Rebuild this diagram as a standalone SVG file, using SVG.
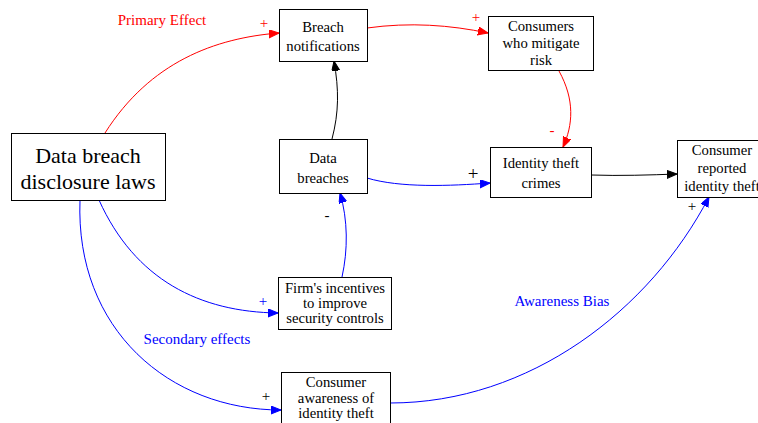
<svg xmlns="http://www.w3.org/2000/svg" width="758" height="423" viewBox="0 0 758 423" font-family="Liberation Serif, Times New Roman, serif">
<style>
.box{fill:#fff;stroke:#000;stroke-width:1}
text{font-size:14.7px;text-anchor:middle}
.t{fill:#000}
.big{font-size:22px}
.lab{font-size:15px}
.sym{font-size:19px}
.e{fill:none;stroke-width:1}
.red{stroke:#f00}.blue{stroke:#00f}.blk{stroke:#000}
.lr{fill:#f00}.lb{fill:#00f}
</style>
<defs>
<marker id="ar" markerUnits="userSpaceOnUse" markerWidth="12" markerHeight="9" refX="10" refY="4" orient="auto"><path d="M0,0 L10,4 L0,8 z" fill="#f00" stroke="#f00"/></marker>
<marker id="ab" markerUnits="userSpaceOnUse" markerWidth="12" markerHeight="9" refX="10" refY="4" orient="auto"><path d="M0,0 L10,4 L0,8 z" fill="#00f" stroke="#00f"/></marker>
<marker id="ak" markerUnits="userSpaceOnUse" markerWidth="12" markerHeight="9" refX="10" refY="4" orient="auto"><path d="M0,0 L10,4 L0,8 z" fill="#000" stroke="#000"/></marker>
</defs>
<rect width="758" height="423" fill="#fff"/>
<g id="edges">
<path class="e red" d="M105,133 C150,62 215,38 279,33" marker-end="url(#ar)"/>
<path class="e red" d="M367,28 C410,22 450,25 488,33" marker-end="url(#ar)"/>
<path class="e red" d="M559,71 C575,100 573,125 563,147" marker-end="url(#ar)"/>
<path class="e blk" d="M332,139 C339,112 339,90 334,61" marker-end="url(#ak)"/>
<path class="e blue" d="M367,178 C400,188 450,186 490,183" marker-end="url(#ab)"/>
<path class="e blk" d="M591,175 C620,176 650,175 677,174" marker-end="url(#ak)"/>
<path class="e blue" d="M342,277 C348,250 348,220 340,193" marker-end="url(#ab)"/>
<path class="e blue" d="M99,200 C135,280 200,312 278,313" marker-end="url(#ab)"/>
<path class="e blue" d="M80,200 C75,330 170,410 281,410" marker-end="url(#ab)"/>
<path class="e blue" d="M390,403 C530,403 650,310 709,197" marker-end="url(#ab)"/>
<text class="lr lab" x="162" y="25">Primary Effect</text>
<text class="lr lab" x="264" y="28">+</text>
<text class="lr lab" x="476" y="22">+</text>
<text class="lr lab" x="552" y="135">-</text>
<text class="t sym" x="473" y="180">+</text>
<text class="t lab" x="327" y="220">-</text>
<text class="lb lab" x="263" y="306">+</text>
<text class="t lab" x="266" y="401">+</text>
<text class="t lab" x="692" y="211">+</text>
<text class="lb lab" x="197" y="344">Secondary effects</text>
<text class="lb lab" x="562" y="306">Awareness Bias</text>
</g>
<g id="dbdl"><rect class="box" x="11.5" y="133.5" width="154" height="67"/><text class="t big" x="88" y="163">Data breach</text><text class="t big" x="88" y="189">disclosure laws</text></g>
<g id="breach-notifications"><rect class="box" x="279.5" y="9.5" width="88" height="52"/><text class="t" x="323" y="32">Breach</text><text class="t" x="323" y="51">notifications</text></g>
<g id="consumers-mitigate"><rect class="box" x="488.5" y="16.5" width="105" height="54"/><text class="t" x="541" y="31">Consumers</text><text class="t" x="541" y="48">who mitigate</text><text class="t" x="541" y="65">risk</text></g>
<g id="data-breaches"><rect class="box" x="279.5" y="139.5" width="88" height="54"/><text class="t" x="323" y="163">Data</text><text class="t" x="323" y="183">breaches</text></g>
<g id="identity-theft"><rect class="box" x="490.5" y="147.5" width="101" height="50"/><text class="t" x="541" y="168">Identity theft</text><text class="t" x="541" y="188">crimes</text></g>
<g id="consumer-reported"><rect class="box" x="677.5" y="140.5" width="92" height="57"/><text class="t" x="722" y="155">Consumer</text><text class="t" x="722" y="173">reported</text><text class="t" x="722" y="191">identity theft</text></g>
<g id="firms-incentives"><rect class="box" x="278.5" y="277.5" width="113" height="52"/><text class="t" x="335" y="293">Firm's incentives</text><text class="t" x="335" y="308">to improve</text><text class="t" x="335" y="323">security controls</text></g>
<g id="consumer-awareness"><rect class="box" x="281.5" y="372.5" width="109" height="60"/><text class="t" x="336" y="387">Consumer</text><text class="t" x="336" y="403">awareness of</text><text class="t" x="336" y="418">identity theft</text></g>
</svg>
